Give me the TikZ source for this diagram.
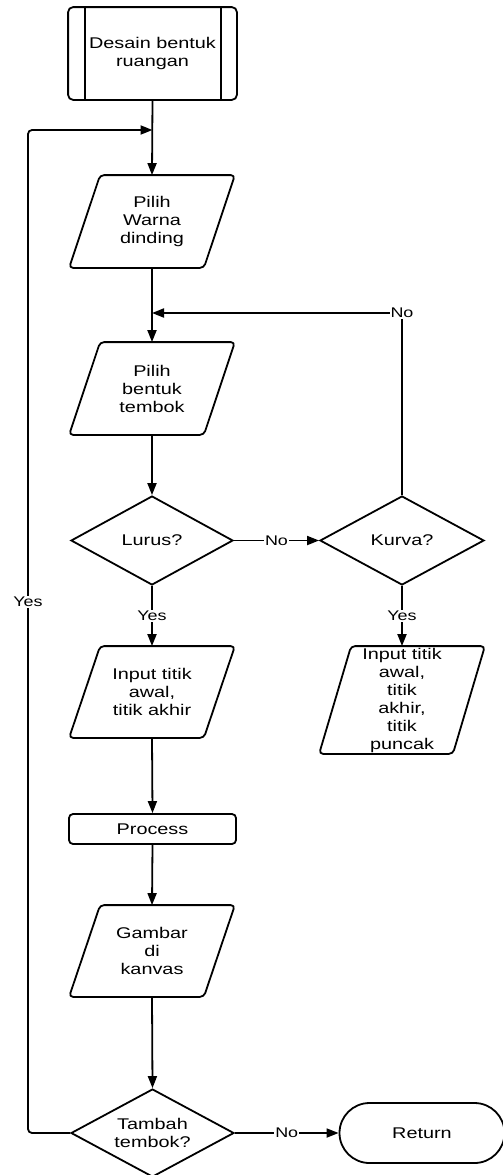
\documentclass[tikz,border=0pt]{standalone}
\usepackage{fontspec}
\setmainfont[FakeStretch=1.28]{Liberation Sans}
\usetikzlibrary{shapes.geometric,arrows.meta}
\begin{document}
\begin{tikzpicture}[x=1pt,y=-1pt,
  line width=1.8pt,
  font=\fontsize{15.5}{18}\selectfont,
  arr/.style={-{Triangle[length=12pt,width=9pt]}},
  box/.style={draw=none,inner sep=0pt,minimum width=164pt,align=center},
  dia/.style={diamond,draw,inner sep=0pt,minimum width=162pt,minimum height=89pt,aspect=1.82,align=center},
  lbl/.style={fill=white,inner sep=1pt,font=\fontsize{14}{16}\selectfont}]
\useasboundingbox (0,0) rectangle (503,1175);
% nodes
\node[box,minimum width=167pt,minimum height=91pt] (des) at (152.5,53.5) {Desain bentuk\\ruangan};
\draw[rounded corners=5pt] (des.north west) rectangle (des.south east);
\draw ([xshift=17pt]des.north west) -- ([xshift=17pt]des.south west);
\draw ([xshift=-16pt]des.north east) -- ([xshift=-16pt]des.south east);

\node[box,minimum height=91pt] (warna) at (152,221.5) {Pilih\\Warna\\dinding};
\node[box,minimum height=91pt] (bentuk) at (152,388.5) {Pilih\\bentuk\\tembok};
\node[box,minimum height=90pt] (input) at (152,692) {Input titik\\awal,\\titik akhir};
\node[box,minimum height=90pt] (gambar) at (152,951) {Gambar\\di\\kanvas};
\node[box,minimum height=106pt] (input2) at (402,700) {Input titik\\awal,\\titik\\akhir,\\titik\\puncak};
\foreach \n/\s in {warna/31,bentuk/31,input/31,gambar/31,input2/32}{
  \draw[rounded corners=4pt] ([xshift=\s pt]\n.north west) -- (\n.north east)
     -- ([xshift=-\s pt]\n.south east) -- (\n.south west) -- cycle;
}
\node[dia] (lurus) at (152,540.5) {Lurus?};
\node[dia,minimum width=164pt] (kurva) at (402,540.5) {Kurva?};
\node[draw,rounded corners=4pt,minimum width=167pt,minimum height=30pt,inner sep=0pt] (proc) at (152.5,829) {Process};
\node[dia,minimum width=163pt,minimum height=88pt] (tambah) at (152.5,1133) {Tambah\\tembok?};
\node[draw,rounded corners=30pt,minimum width=165pt,minimum height=60pt,inner sep=0pt] (ret) at (422,1133) {Return};

% connectors
\coordinate (j1) at (des.south |- 0,130);
\coordinate (j2) at (warna.south |- 0,313);
\draw[arr] (des.south) -- (warna.north);
\draw[arr] (warna.south) -- (bentuk.north);
\draw[arr] (bentuk.south) -- (lurus.north);
\draw[arr] (lurus.east) -- node[lbl] {No} (kurva.west);
\draw[arr] (lurus.south) -- node[lbl,pos=0.5] {Yes} (input.north);
\draw[arr] (kurva.south) -- node[lbl,pos=0.5] {Yes} (input2.north);
\draw[arr] (input.south) -- (proc.north);
\draw[arr] (proc.south) -- (gambar.north);
\draw[arr] (gambar.south) -- (tambah.north);
\draw[arr] (tambah.east) -- node[lbl,pos=0.5] {No} (ret.west);
\coordinate (c1) at (kurva.north |- j2);
\draw[arr] (kurva.north) -- (c1) -- (j2);
\node[lbl] at (c1) {No};
\coordinate (c2) at (28,1133);
\coordinate (c3) at (28,130);
\draw[arr,rounded corners=4pt] (tambah.west) -- (c2) -- (c3) -- (j1);
\node[lbl] at (28,602) {Yes};
\end{tikzpicture}
\end{document}
